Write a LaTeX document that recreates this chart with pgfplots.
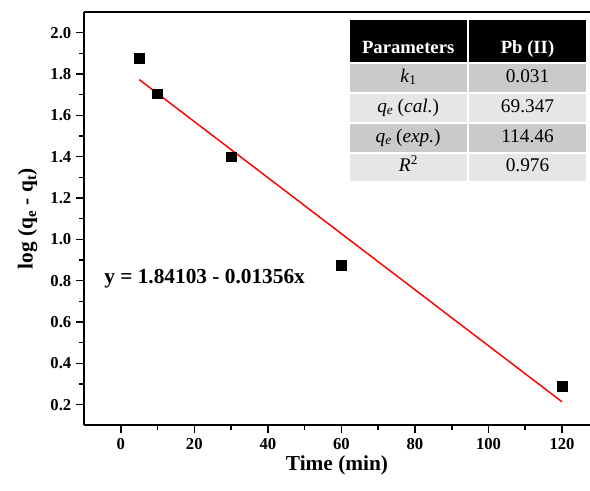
\documentclass[border=0pt]{standalone}
\usepackage[table]{xcolor}
\usepackage{pgfplots}
\pgfplotsset{compat=1.18}
\usepackage{fontspec}
\setmainfont{Liberation Serif}
\usepackage{array}
\definecolor{rowdark}{HTML}{CACACA}
\definecolor{rowlight}{HTML}{E6E6E6}
\newcolumntype{C}[1]{>{\centering\arraybackslash}p{#1}}
\newcommand{\rs}{\rule[-7pt]{0pt}{20.8pt}}
\newcommand{\qe}{\textit{q}\raisebox{-0.25ex}{\fontsize{10}{12}\selectfont\textit{e}}}
\begin{document}
\begin{tikzpicture}
\useasboundingbox (-63pt,-49pt) rectangle (379.5pt,319pt);
\begin{axis}[
  scale only axis,
  width=379.5pt, height=310pt,
  xmin=-10, xmax=127.6, ymin=0.1, ymax=2.1,
  axis x line*=box,
  axis y line*=left,
  y axis line style={-},
  x axis line style={-},
  axis line style={line width=1.4pt},
  xtick={0,20,...,120}, ytick={0.2,0.4,...,2.01},
  minor x tick num=1, minor y tick num=1,
  xtick pos=bottom, ytick pos=left,
  tick align=outside,
  major tick length=6pt, minor tick length=3.5pt,
  every tick/.style={line width=1.2pt, black},
  yticklabel style={/pgf/number format/fixed,/pgf/number format/fixed zerofill,/pgf/number format/precision=1},
  /pgf/number format/assume math mode=true,
  ticklabel style={font=\fontsize{12.5}{14}\selectfont\bfseries},
  xlabel={\bfseries Time (min)},
  ylabel={\bfseries log (q\textsubscript{e} - q\textsubscript{t})},
  label style={font=\fontsize{16}{18}\selectfont},
  xlabel style={yshift=2pt},
  ylabel style={yshift=3pt},
  clip=false,
]
\addplot[only marks, mark=square*, mark size=3.6pt, black] coordinates {
(5,1.875) (10,1.705) (30,1.400) (60,0.875) (120,0.290)};
\addplot[red, line width=1.1pt] coordinates {(5,1.7732) (120,0.2138)};
\node[font=\fontsize{16}{18}\selectfont\bfseries] at (axis cs:22.8,0.81) {y = 1.84103 - 0.01356x};
\node[anchor=north east, inner sep=0pt] at (rel axis cs:0.993,0.982) {%
\fontsize{14.5}{16}\selectfont
\arrayrulecolor{white}\setlength\arrayrulewidth{1.5pt}\setlength\tabcolsep{0pt}%
\begin{tabular}{C{88pt}|C{88pt}}
\cellcolor{black}\color{white}\fontsize{14}{16}\selectfont\bfseries\rs Parameters & \cellcolor{black}\color{white}\fontsize{14}{16}\selectfont\bfseries\rs Pb (II)\\ \hline
\cellcolor{rowdark}\rs\textit{k}\raisebox{-0.25ex}{\fontsize{10}{12}\selectfont 1} & \cellcolor{rowdark}\rs 0.031\\ \hline
\cellcolor{rowlight}\rs\qe\ (\textit{cal.}) & \cellcolor{rowlight}\rs 69.347\\ \hline
\cellcolor{rowdark}\rs\qe\ (\textit{exp.}) & \cellcolor{rowdark}\rs 114.46\\ \hline
\cellcolor{rowlight}\rs\textit{R}\raisebox{0.8ex}{\fontsize{10}{12}\selectfont 2} & \cellcolor{rowlight}\rs 0.976\\
\end{tabular}};
\end{axis}
\end{tikzpicture}
\end{document}
